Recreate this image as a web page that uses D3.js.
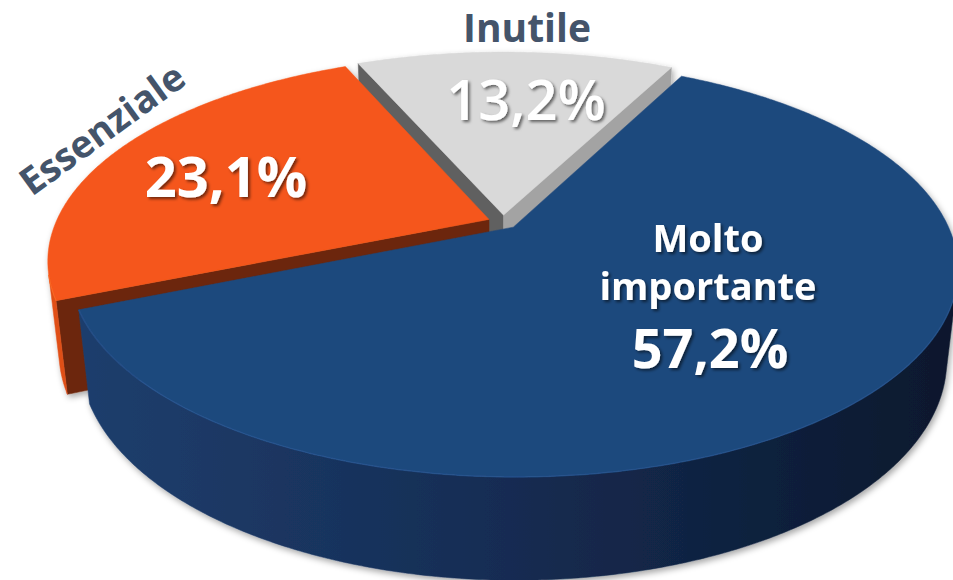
<!DOCTYPE html>
<html><head><meta charset="utf-8">
<script src="https://cdn.jsdelivr.net/npm/d3@7"></script>
<style>html,body{margin:0;padding:0;background:#fff;} svg{display:block;}</style>
</head><body>
<svg id="chart" width="953" height="580"></svg>
<script>
// ---- data ----
const categories = ["Inutile", "Molto importante", "Essenziale"];
const values = [13.2, 57.2, 23.1];
const valueLabels = ["13,2%", "57,2%", "23,1%"];
const sliceColors = ["#D9D9D9", "#1F497D", "#F5561A"];

// ---- setup ----
const svg = d3.select("#chart");
const defs = svg.append("defs");
const rad = d => d * Math.PI / 180;

const pieShadow = defs.append("filter").attr("id", "pieShadow")
  .attr("x", "-10%").attr("y", "-10%").attr("width", "120%").attr("height", "125%");
pieShadow.append("feDropShadow").attr("dx", 2).attr("dy", 3).attr("stdDeviation", 3)
  .attr("flood-color", "#000").attr("flood-opacity", 0.35);

const textShadow = defs.append("filter").attr("id", "textShadow")
  .attr("x", "-20%").attr("y", "-30%").attr("width", "140%").attr("height", "160%");
textShadow.append("feDropShadow").attr("dx", 2).attr("dy", 2).attr("stdDeviation", 1.5)
  .attr("flood-color", "#000").attr("flood-opacity", 0.55);

const sideGrad = defs.append("linearGradient").attr("id", "blueSide")
  .attr("gradientUnits", "userSpaceOnUse").attr("x1", 60).attr("x2", 953).attr("y1", 0).attr("y2", 0);
[[0, "#1F3F6E"], [0.45, "#162E56"], [1, "#0B182D"]].forEach(([o, c]) =>
  sideGrad.append("stop").attr("offset", o).attr("stop-color", c));

const color = d3.scaleOrdinal().domain(categories).range(sliceColors);

const START = rad(-23.5);
const pie = d3.pie().sort(null).value(d => d).startAngle(START).endAngle(START + 2 * Math.PI);
const arcs = pie(values);

// 3D perspective projection
const PHI = rad(27.2), DIST = 4.48, K = 433, CX = 503, CY = 222, DEPTH = 0.236, EXPLODE = 0.035;
const camera = [0, DIST * Math.sin(PHI), DIST * Math.cos(PHI)];
function project([X, Y, Z]) {
  const yc = Y * Math.cos(PHI) - Z * Math.sin(PHI);
  const zc = Y * Math.sin(PHI) + Z * Math.cos(PHI);
  const f = DIST / (DIST - zc);
  return [CX + K * X * f, CY - K * yc * f];
}
function depthOf([X, Y, Z]) { return Y * Math.sin(PHI) + Z * Math.cos(PHI); }
function facing(n, p) {
  return n[0] * (camera[0] - p[0]) + n[1] * (camera[1] - p[1]) + n[2] * (camera[2] - p[2]) > 0;
}
const line = d3.line();
const poly = pts => line(pts.map(project)) + "Z";

const slices = arcs.map((a, i) => {
  const a0 = a.startAngle, a1 = a.endAngle, mid = (a0 + a1) / 2;
  const ox = EXPLODE * Math.sin(mid), oz = -EXPLODE * Math.cos(mid);
  const rim = (t, y) => [ox + Math.sin(t), y, oz - Math.cos(t)];
  const ctr = y => [ox, y, oz];
  const n = Math.max(2, Math.ceil((a1 - a0) / rad(0.5)));
  const ts = d3.range(n + 1).map(j => a0 + (a1 - a0) * j / n);
  const base = d3.color(color(categories[i]));
  const faces = [];
  // radial cut faces
  [[a0, a0 - Math.PI / 2, 2.3], [a1, a1 + Math.PI / 2, 0.8]].forEach(([t, nt, dk]) => {
    const nrm = [Math.sin(nt), 0, -Math.cos(nt)];
    const pm = [ox + 0.5 * Math.sin(t), -DEPTH / 2, oz - 0.5 * Math.cos(t)];
    if (facing(nrm, pm)) {
      faces.push({ d: poly([ctr(0), rim(t, 0), rim(t, -DEPTH), ctr(-DEPTH)]), fill: base.darker(dk).formatHex() });
    }
  });
  // outer side (visible runs)
  const vis = ts.map(t => facing([Math.sin(t), 0, -Math.cos(t)], rim(t, -DEPTH / 2)));
  let runs = [], cur = [];
  ts.forEach((t, j) => { if (vis[j]) cur.push(t); else { if (cur.length > 1) runs.push(cur); cur = []; } });
  if (cur.length > 1) runs.push(cur);
  const sideFill = i === 1 ? "url(#blueSide)" : base.darker(0.25).formatHex();
  runs.forEach(r => {
    faces.push({ d: poly(r.map(t => rim(t, 0)).concat(r.slice().reverse().map(t => rim(t, -DEPTH)))), fill: sideFill });
  });
  // top face
  faces.push({ d: poly([ctr(0)].concat(ts.map(t => rim(t, 0)))), fill: base.formatHex() });
  // rim highlights
  const hl = runs.map(r => line(r.map(t => project(rim(t, 0)))));
  return { faces, hl, hlColor: base.brighter(0.7).formatHex(), key: depthOf([ox + 0.5 * Math.sin(mid), 0, oz - 0.5 * Math.cos(mid)]) };
});

const gPie = svg.append("g").attr("filter", "url(#pieShadow)");
slices.slice().sort((a, b) => a.key - b.key).forEach(s => {
  const g = gPie.append("g");
  g.selectAll("path.face").data(s.faces).join("path").attr("class", "face")
    .attr("d", d => d.d).attr("fill", d => d.fill).attr("stroke", d => d.fill).attr("stroke-width", 0.5);
  g.selectAll("path.hl").data(s.hl).join("path").attr("class", "hl")
    .attr("d", d => d).attr("fill", "none").attr("stroke", s.hlColor)
    .attr("stroke-width", 1.5).attr("stroke-opacity", 0.45);
});

// ---- labels ----
const FONT = "'Open Sans', 'DejaVu Sans', sans-serif";
const labels = svg.append("g").attr("font-family", FONT).attr("font-weight", 700).attr("text-anchor", "middle");

// category names (outside)
labels.append("text").attr("x", 527).attr("y", 42).attr("font-size", 39)
  .attr("fill", "#44546A").text(categories[0]);
labels.append("text").attr("transform", "translate(110,140) rotate(-36)").attr("font-size", 38)
  .attr("fill", "#44546A").text(categories[2]);

// inside labels
const white = labels.append("g").attr("fill", "#fff").attr("filter", "url(#textShadow)");
white.append("text").attr("x", 526).attr("y", 120).attr("font-size", 56).attr("font-weight", 600).text(valueLabels[0]);
white.append("text").attr("x", 226).attr("y", 197).attr("font-size", 56).text(valueLabels[2]);
const mi = categories[1].split(" ");
white.append("text").attr("x", 708).attr("y", 252).attr("font-size", 38).text(mi[0]);
white.append("text").attr("x", 708).attr("y", 300).attr("font-size", 38).text(mi[1]);
white.append("text").attr("x", 710).attr("y", 368).attr("font-size", 54).text(valueLabels[1]);
</script>
</body></html>
